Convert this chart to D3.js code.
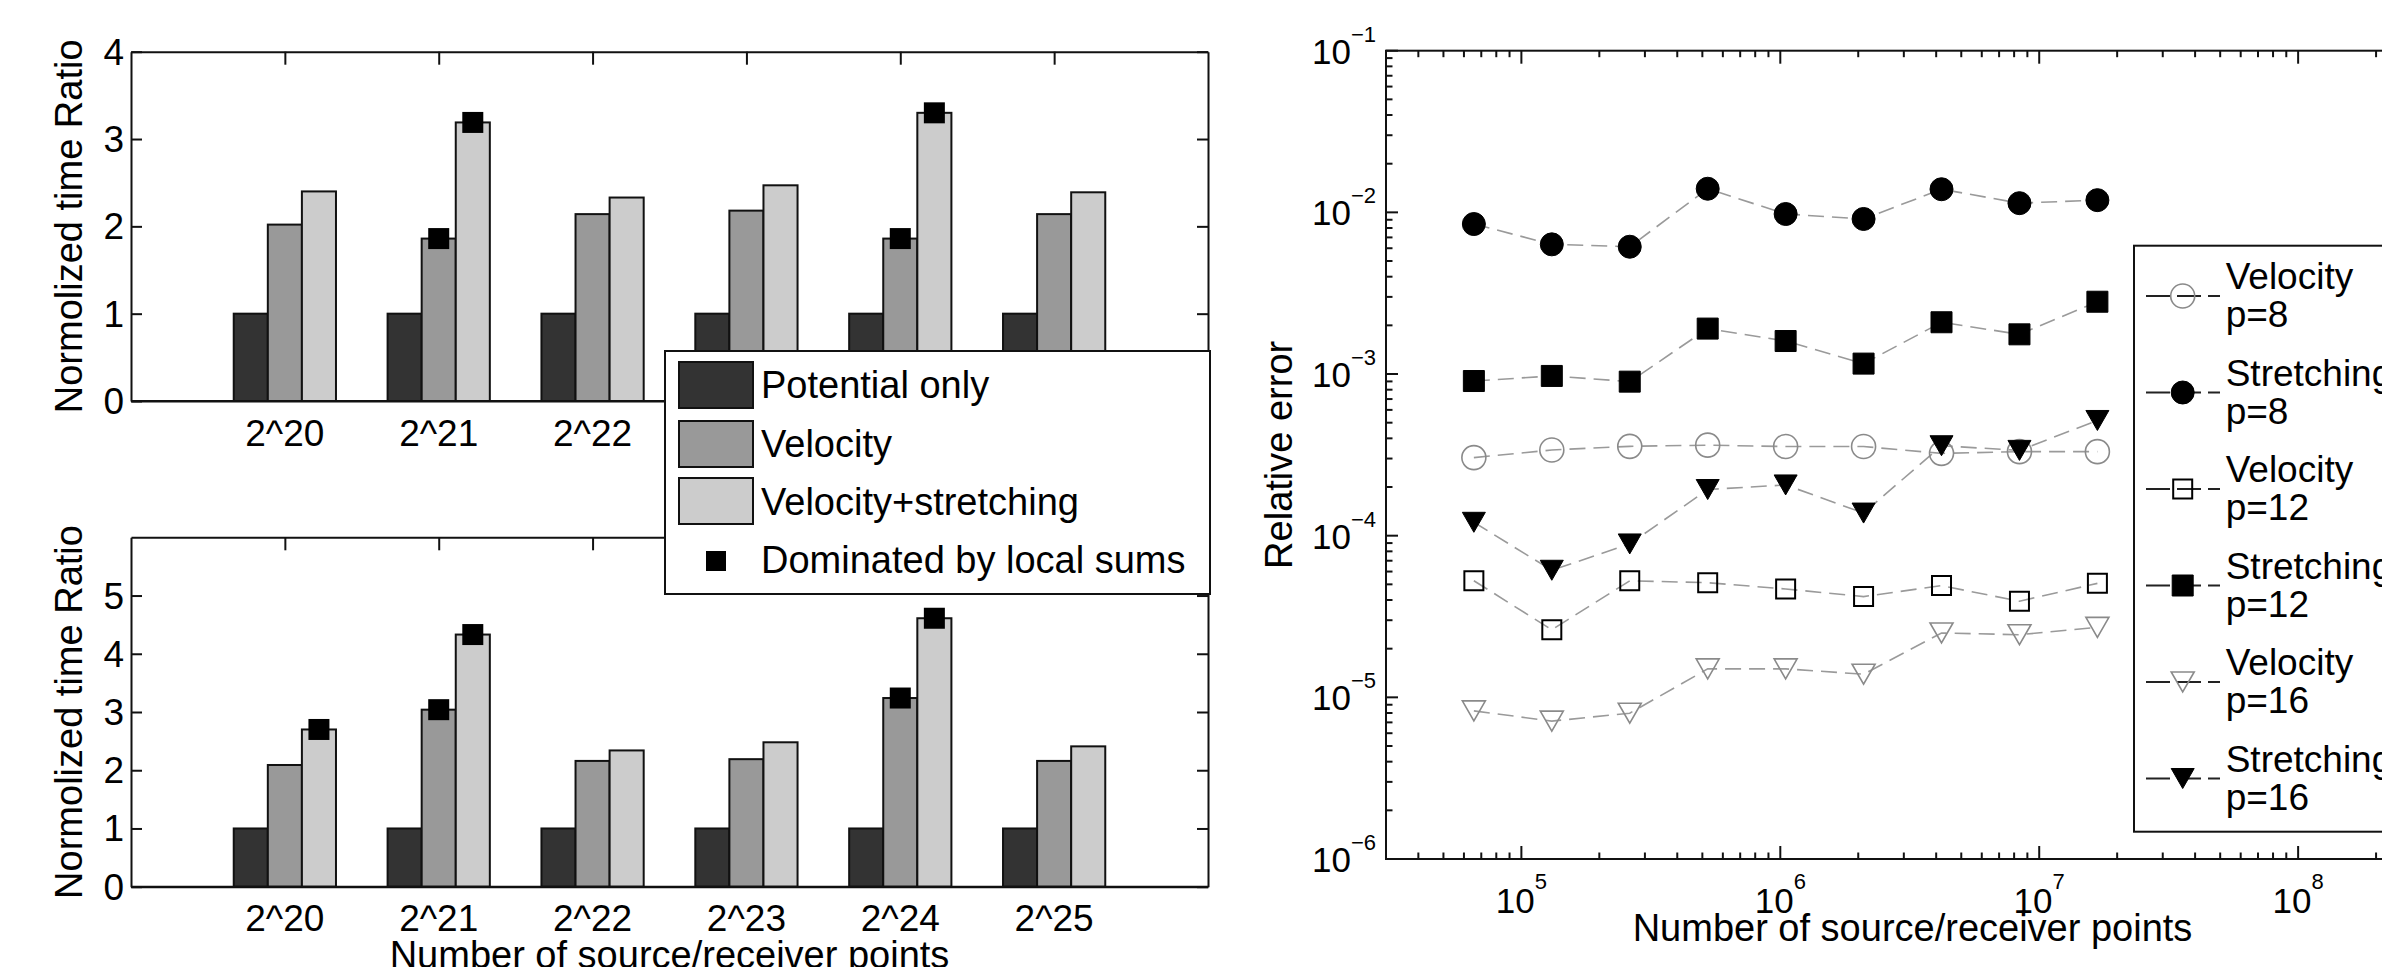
<!DOCTYPE html>
<html><head><meta charset="utf-8">
<script src="https://cdn.jsdelivr.net/npm/d3@7"></script>
<style>
body{margin:0;background:#fff;}
svg{display:block;background:#fff;}
text{font-family:"Liberation Sans",Arial,Helvetica,sans-serif;fill:#000;}
</style></head><body>
<svg id="c" width="2382" height="967"></svg>
<script>
// ---------- data: bar charts ----------
const categories = ["2^20","2^21","2^22","2^23","2^24","2^25"];
const barSeriesNames = ["Potential only","Velocity","Velocity+stretching"];
const topPotential  = [1,1,1,1,1,1];
const topVelocity   = [2.02,1.86,2.14,2.18,1.86,2.14];
const topStretching = [2.40,3.19,2.33,2.47,3.30,2.39];
const botPotential  = [1,1,1,1,1,1];
const botVelocity   = [2.09,3.04,2.16,2.19,3.24,2.16];
const botStretching = [2.70,4.33,2.34,2.48,4.61,2.41];
// [category index, series index] of bars dominated by local sums
const topDominated = [[1,1],[1,2],[4,1],[4,2]];
const botDominated = [[0,2],[1,1],[1,2],[4,1],[4,2]];
const topYTicks = [0,1,2,3,4];
const botYTicks = [0,1,2,3,4,5];
const dominatedLabel = "Dominated by local sums";

// ---------- data: relative error ----------
const nPoints = [65536,131072,262144,524288,1048576,2097152,4194304,8388608,16777216];
const velocityP8   = [3.04e-4,3.39e-4,3.57e-4,3.63e-4,3.56e-4,3.56e-4,3.23e-4,3.31e-4,3.31e-4];
const stretchingP8 = [8.47e-3,6.34e-3,6.13e-3,1.40e-2,9.77e-3,9.1e-3,1.39e-2,1.14e-2,1.19e-2];
const velocityP12  = [5.26e-5,2.62e-5,5.26e-5,5.12e-5,4.68e-5,4.20e-5,4.91e-5,3.93e-5,5.07e-5];
const stretchingP12= [9.05e-4,9.73e-4,8.97e-4,1.91e-3,1.60e-3,1.16e-3,2.09e-3,1.76e-3,2.80e-3];
const velocityP16  = [8.25e-6,7.13e-6,7.98e-6,1.50e-5,1.50e-5,1.39e-5,2.50e-5,2.44e-5,2.71e-5];
const stretchingP16= [1.21e-4,6.11e-5,8.89e-5,1.93e-4,2.06e-4,1.38e-4,3.6e-4,3.37e-4,5.16e-4];
const errYTicks = [1e-6,1e-5,1e-4,1e-3,1e-2,1e-1];
const errXTicks = [1e5,1e6,1e7,1e8];

const svg = d3.select("#c");
const AX = "#111";

// ================= bar panels =================
function barPanel(cfg){
  const x = d3.scaleLinear().domain([0, categories.length + 1]).range([131, 1208]);
  const y = d3.scaleLinear().domain([0, cfg.yMax]).range([cfg.bottom, cfg.top]);
  const g = svg.append("g");
  const bw = x(0.2215) - x(0);
  const cats = categories.map((c,i)=>i+1);

  function styleAxis(a){ a.selectAll("path,line").attr("stroke",AX).attr("stroke-width",2); }
  g.append("g").attr("transform",`translate(0,${y(cfg.yMax)})`)
    .call(d3.axisTop(x).tickValues(cats).tickSize(-13).tickSizeOuter(0).tickFormat("")).call(styleAxis);
  g.append("g").attr("transform",`translate(0,${y(0)})`)
    .call(d3.axisBottom(x).tickValues(cats).tickSize(-13).tickSizeOuter(0).tickFormat("")).call(styleAxis);
  g.append("g").attr("transform",`translate(${x(0)},0)`)
    .call(d3.axisLeft(y).tickValues(cfg.yTicks).tickSize(-11).tickSizeOuter(0).tickFormat("")).call(styleAxis);
  g.append("g").attr("transform",`translate(${x(categories.length+1)},0)`)
    .call(d3.axisRight(y).tickValues(cfg.yTicks).tickSize(-11).tickSizeOuter(0).tickFormat("")).call(styleAxis);

  const series = [cfg.pot, cfg.vel, cfg.str];
  const colors = ["#333333","#999999","#cccccc"];
  series.forEach((vals,s)=>{
    g.append("g").selectAll("rect").data(vals).join("rect")
      .attr("x",(d,i)=>x(i+1)+(s-1)*bw-bw/2)
      .attr("width",bw)
      .attr("y",d=>y(d))
      .attr("height",d=>y(0)-y(d))
      .attr("fill",colors[s]).attr("stroke","#111").attr("stroke-width",2);
  });
  // redraw baseline on top
  g.append("line").attr("x1",x(0)).attr("x2",x(categories.length+1))
    .attr("y1",y(0)).attr("y2",y(0)).attr("stroke",AX).attr("stroke-width",2);

  const ms = 21;
  g.append("g").selectAll("rect").data(cfg.dom).join("rect")
    .attr("x",d=>x(d[0]+1)+(d[1]-1)*bw-ms/2)
    .attr("y",d=>y(series[d[1]][d[0]])-ms/2)
    .attr("width",ms).attr("height",ms).attr("fill","#000");

  g.append("g").selectAll("text").data(cfg.yTicks).join("text")
    .attr("x",x(0)-7).attr("y",d=>y(d)+13).attr("text-anchor","end")
    .attr("font-size",37).text(d=>d);
  g.append("g").selectAll("text").data(categories).join("text")
    .attr("x",(d,i)=>x(i+1)).attr("y",y(0)+44.5).attr("text-anchor","middle")
    .attr("font-size",37).text(d=>d);
  g.append("text").attr("transform",`translate(82,${(y(0)+y(cfg.yMax))/2}) rotate(-90)`)
    .attr("text-anchor","middle").attr("font-size",38).text("Normolized time Ratio");
  return {x,y};
}

const topP = barPanel({yMax:4, top:51.7, bottom:401, yTicks:topYTicks,
  pot:topPotential, vel:topVelocity, str:topStretching, dom:topDominated});
const botP = barPanel({yMax:6, top:537.3, bottom:886.7, yTicks:botYTicks,
  pot:botPotential, vel:botVelocity, str:botStretching, dom:botDominated});
svg.append("text").attr("x",(botP.x(0)+botP.x(7))/2).attr("y",968)
  .attr("text-anchor","middle").attr("font-size",38).text("Number of source/receiver points");

// bar legend
(function(){
  const g = svg.append("g");
  g.append("rect").attr("x",665).attr("y",351).attr("width",545).attr("height",243)
    .attr("fill","#fff").attr("stroke",AX).attr("stroke-width",2);
  const cols = ["#333333","#999999","#cccccc"];
  const rowTop = [362,421,478];
  const base = [398,456.7,515,573.3];
  barSeriesNames.forEach((n,i)=>{
    g.append("rect").attr("x",679).attr("y",rowTop[i]).attr("width",74).attr("height",46)
      .attr("fill",cols[i]).attr("stroke","#111").attr("stroke-width",2);
    g.append("text").attr("x",761).attr("y",base[i]).attr("font-size",38).text(n);
  });
  g.append("rect").attr("x",706).attr("y",551).attr("width",20).attr("height",20).attr("fill","#000");
  g.append("text").attr("x",761).attr("y",base[3]).attr("font-size",38).text(dominatedLabel);
})();

// ================= error panel =================
const ex = d3.scaleLog().domain([3e4, 3.5e8]).range([1386, 2439]);
const ey = d3.scaleLog().domain([1e-6, 1e-1]).range([859, 50.7]);
const eg = svg.append("g");
const isMajor = v => Math.abs(Math.log10(v) - Math.round(Math.log10(v))) < 1e-9;
const [X0,X1] = ex.range(), [Y0,Y1] = ey.range();
ex.ticks().forEach(v=>{
  const L = isMajor(v) ? 13 : 6.5, px = ex(v);
  eg.append("line").attr("x1",px).attr("x2",px).attr("y1",Y0).attr("y2",Y0-L).attr("stroke",AX).attr("stroke-width",2);
  eg.append("line").attr("x1",px).attr("x2",px).attr("y1",Y1).attr("y2",Y1+L).attr("stroke",AX).attr("stroke-width",2);
});
ey.ticks().forEach(v=>{
  const L = isMajor(v) ? 12 : 6.5, py = ey(v);
  eg.append("line").attr("x1",X0).attr("x2",X0+L).attr("y1",py).attr("y2",py).attr("stroke",AX).attr("stroke-width",2);
  eg.append("line").attr("x1",X1).attr("x2",X1-L).attr("y1",py).attr("y2",py).attr("stroke",AX).attr("stroke-width",2);
});
eg.append("rect").attr("x",X0).attr("y",Y1).attr("width",X1-X0).attr("height",Y0-Y1)
  .attr("fill","none").attr("stroke",AX).attr("stroke-width",2);

errYTicks.forEach(v=>{
  const t = eg.append("text").attr("x",1376).attr("y",ey(v)+13).attr("text-anchor","end").attr("font-size",35);
  t.append("tspan").text("10");
  t.append("tspan").attr("dy",-22).attr("font-size",22).text("\u2212"+Math.round(-Math.log10(v)));
});
errXTicks.forEach(v=>{
  const t = eg.append("text").attr("x",ex(v)).attr("y",913).attr("text-anchor","middle").attr("font-size",35);
  t.append("tspan").text("10");
  t.append("tspan").attr("dy",-24).attr("font-size",22).text(Math.round(Math.log10(v)));
});
eg.append("text").attr("x",(X0+X1)/2).attr("y",941).attr("text-anchor","middle").attr("font-size",38)
  .text("Number of source/receiver points");
eg.append("text").attr("transform",`translate(1292,${(Y0+Y1)/2}) rotate(-90)`)
  .attr("text-anchor","middle").attr("font-size",38).text("Relative error");

const GREY = "#8a8a8a";
const errSeries = [
  {label:"Velocity",   p:"p=8",  data:velocityP8,    marker:"circle",   filled:false, color:GREY},
  {label:"Stretching", p:"p=8",  data:stretchingP8,  marker:"circle",   filled:true,  color:"#000"},
  {label:"Velocity",   p:"p=12", data:velocityP12,   marker:"square",   filled:false, color:"#000"},
  {label:"Stretching", p:"p=12", data:stretchingP12, marker:"square",   filled:true,  color:"#000"},
  {label:"Velocity",   p:"p=16", data:velocityP16,   marker:"triangle", filled:false, color:GREY},
  {label:"Stretching", p:"p=16", data:stretchingP16, marker:"triangle", filled:true,  color:"#000"}
];
function markerPath(type, filled){
  if(type==="circle"){ const r = filled?11.5:12; return d3.path && (()=>{const p=d3.path();p.arc(0,0,r,0,2*Math.PI);return p.toString();})(); }
  if(type==="square"){ const h = filled?10.5:9.5; return `M${-h},${-h}H${h}V${h}H${-h}Z`; }
  const w=11.5, h=10; return `M${-w},${-h}H${w}L0,${h}Z`;
}
function drawMarker(sel, s){
  sel.attr("d",markerPath(s.marker,s.filled))
    .attr("fill", s.filled ? "#000" : "none")
    .attr("stroke", s.filled ? "#000" : s.color)
    .attr("stroke-width", s.filled ? 1 : (s.color===GREY?1.6:2));
}
const line = d3.line().x(d=>ex(d[0])).y(d=>ey(d[1]));
errSeries.forEach(s=>{
  const pts = nPoints.map((n,i)=>[n,s.data[i]]);
  eg.append("path").attr("d",line(pts)).attr("fill","none")
    .attr("stroke","#9a9a9a").attr("stroke-width",1.6).attr("stroke-dasharray","16,8");
});
errSeries.forEach(s=>{
  const pts = nPoints.map((n,i)=>[n,s.data[i]]);
  eg.append("g").selectAll("path").data(pts).join("path")
    .attr("transform",d=>`translate(${ex(d[0])},${ey(d[1])})`)
    .call(sel=>drawMarker(sel,s));
});

// error legend
(function(){
  const g = svg.append("g");
  g.append("rect").attr("x",2134).attr("y",245.7).attr("width",400).attr("height",586)
    .attr("fill","#fff").attr("stroke",AX).attr("stroke-width",2);
  errSeries.forEach((s,i)=>{
    const yy = 296 + i*96.5;
    g.append("line").attr("x1",2146).attr("x2",2220).attr("y1",yy).attr("y2",yy)
      .attr("stroke","#222").attr("stroke-width",2).attr("stroke-dasharray","24,7");
    g.append("path").attr("transform",`translate(2182.7,${yy})`).call(sel=>drawMarker(sel,s));
    g.append("text").attr("x",2225.7).attr("y",yy-7).attr("font-size",37).text(s.label);
    g.append("text").attr("x",2225.7).attr("y",yy+31).attr("font-size",37).text(s.p);
  });
})();
</script>
</body></html>
